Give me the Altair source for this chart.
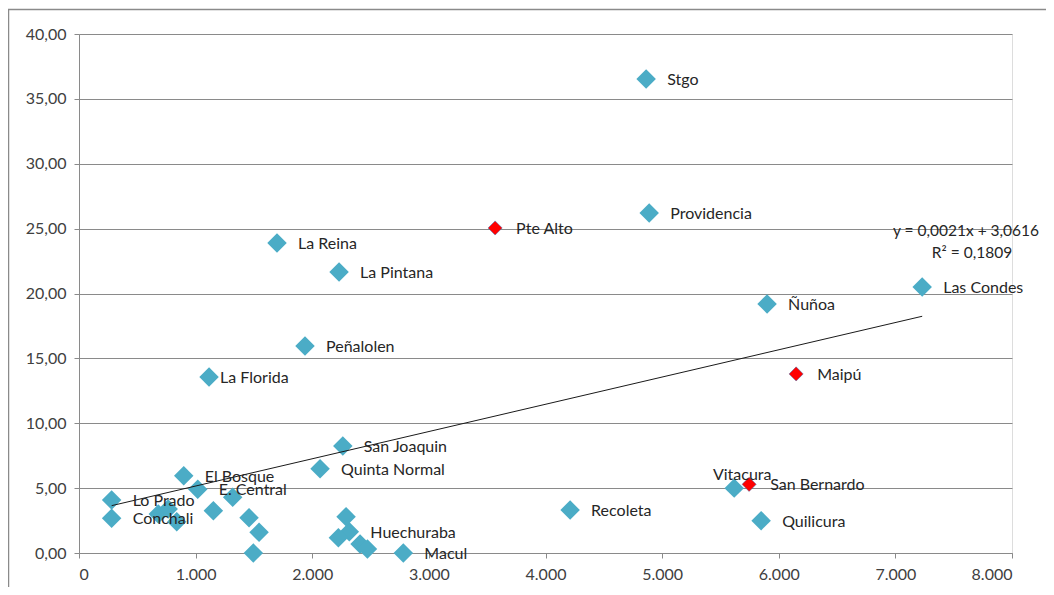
import altair as alt
import pandas as pd

# ---- data ----
names = ["Stgo", "Providencia", "Pte Alto", "La Reina", "La Pintana", "Las Condes",
         "Ñuñoa", "Peñalolen", "La Florida", "Maipú", "San Joaquin", "Quinta Normal",
         "El Bosque", "E. Central", "Lo Prado", "Conchali", "Huechuraba", "Macul",
         "Recoleta", "Vitacura", "San Bernardo", "Quilicura",
         "", "", "", "", "", "", "", "", "", "", "", ""]
x_vals = [4863, 4889, 3568, 1698, 2230, 7230,
          5900, 1938, 1115, 6149, 2262, 2067,
          898, 1018, 280, 280, 2318, 2781,
          4211, 5618, 5746, 5849,
          680, 765, 838, 1152, 1318, 1458, 1544, 1495, 2290, 2224, 2410, 2473]
y_vals = [36.53, 26.20, 25.05, 23.90, 21.66, 20.50,
          19.20, 15.95, 13.56, 13.80, 8.25, 6.50,
          5.96, 4.91, 4.08, 2.67, 1.64, 0.00,
          3.31, 5.00, 5.29, 2.49,
          3.00, 3.39, 2.41, 3.26, 4.29, 2.72, 1.59, 0.00, 2.80, 1.18, 0.69, 0.31]
groups = ["blue", "blue", "red", "blue", "blue", "blue",
          "blue", "blue", "blue", "red", "blue", "blue",
          "blue", "blue", "blue", "blue", "blue", "blue",
          "blue", "blue", "red", "blue",
          "blue", "blue", "blue", "blue", "blue", "blue", "blue", "blue", "blue", "blue", "blue", "blue"]

trend_slope = 0.0021
trend_intercept = 3.0616
trend_label = ["y = 0,0021x + 3,0616", "R² = 0,1809"]

y_ticks = [0, 5, 10, 15, 20, 25, 30, 35, 40]
x_ticks = [0, 1000, 2000, 3000, 4000, 5000, 6000, 7000, 8000]

df = pd.DataFrame({"name": names, "x": x_vals, "y": y_vals, "group": groups})
xmin, xmax = min(x_vals), max(x_vals)
trend = pd.DataFrame({"x": [xmin, xmax],
                      "y": [trend_intercept + trend_slope * xmin,
                            trend_intercept + trend_slope * xmax]})

FONT = "Lato"
GRAY = "#8a8a8a"
W, H = 933, 519

xs = alt.X("x:Q", scale=alt.Scale(domain=[0, 8000], nice=False),
           axis=alt.Axis(values=x_ticks, grid=False, title=None,
                         labelExpr="datum.value == 0 ? '0' : replace(format(datum.value, ','), ',', '.')",
                         domainColor=GRAY, tickColor=GRAY, tickSize=5,
                         labelPadding=8, labelFontSize=16, labelFont=FONT,
                         labelColor="#404040"))
ys = alt.Y("y:Q", scale=alt.Scale(domain=[0, 40], nice=False),
           axis=alt.Axis(values=y_ticks, grid=True, gridColor=GRAY, title=None,
                         labelExpr="replace(format(datum.value, '.2f'), '.', ',')",
                         domainColor=GRAY, tickColor=GRAY, tickSize=5,
                         labelPadding=8, labelFontSize=16, labelFont=FONT,
                         labelColor="#404040"))

base = alt.Chart(df)

blue_pts = base.transform_filter("datum.group == 'blue'").mark_point(
    shape="diamond", filled=True, size=380, color="#4BACC6", opacity=1
).encode(x=xs, y=ys)

red_pts = base.transform_filter("datum.group == 'red'").mark_point(
    shape="diamond", filled=True, size=200, color="#FF0000", opacity=1,
    stroke="#3a6fb0", strokeWidth=0.5
).encode(x="x:Q", y="y:Q")

txt_common = dict(font=FONT, fontSize=16, color="#262626", baseline="middle")

labels = base.transform_filter(
    "datum.name != '' && datum.name != 'La Florida' && datum.name != 'Vitacura'"
).mark_text(align="left", dx=21, dy=1, **txt_common).encode(x="x:Q", y="y:Q", text="name:N")

lbl_florida = base.transform_filter("datum.name == 'La Florida'").mark_text(
    align="left", dx=11, dy=1, **txt_common).encode(x="x:Q", y="y:Q", text="name:N")

lbl_vitacura = base.transform_filter("datum.name == 'Vitacura'").mark_text(
    align="center", dx=8, dy=-13, **txt_common).encode(x="x:Q", y="y:Q", text="name:N")

trend_line = alt.Chart(trend).mark_line(color="#1a1a1a", strokeWidth=1).encode(
    x="x:Q", y="y:Q")

eq_style = dict(font=FONT, fontSize=15.5, color="#262626", baseline="middle")
one = pd.DataFrame({"a": [0]})
eq1 = alt.Chart(one).mark_text(align="center", text=trend_label[0], **eq_style).encode(
    x=alt.value(887), y=alt.value(197))
eq2 = alt.Chart(one).mark_text(align="center", text=trend_label[1], **eq_style).encode(
    x=alt.value(893), y=alt.value(219))

frame_top = alt.Chart(one).mark_rule(color=GRAY, strokeWidth=1.5).encode(
    x=alt.value(-71), x2=alt.value(990), y=alt.value(-24.5))
frame_left = alt.Chart(one).mark_rule(color=GRAY, strokeWidth=1.5).encode(
    x=alt.value(-70.5), y=alt.value(-25), y2=alt.value(600))

chart = alt.layer(
    blue_pts, red_pts, trend_line, labels, lbl_florida, lbl_vitacura, eq1, eq2,
    frame_top, frame_left
).properties(
    width=W, height=H,
    autosize=alt.AutoSizeParams(type="none"),
    padding={"left": 71, "top": 26, "right": 34, "bottom": 34},
).configure_view(stroke=None).configure(background="white")

chart.save("out.html", embed_options={"renderer": "svg", "actions": False})
